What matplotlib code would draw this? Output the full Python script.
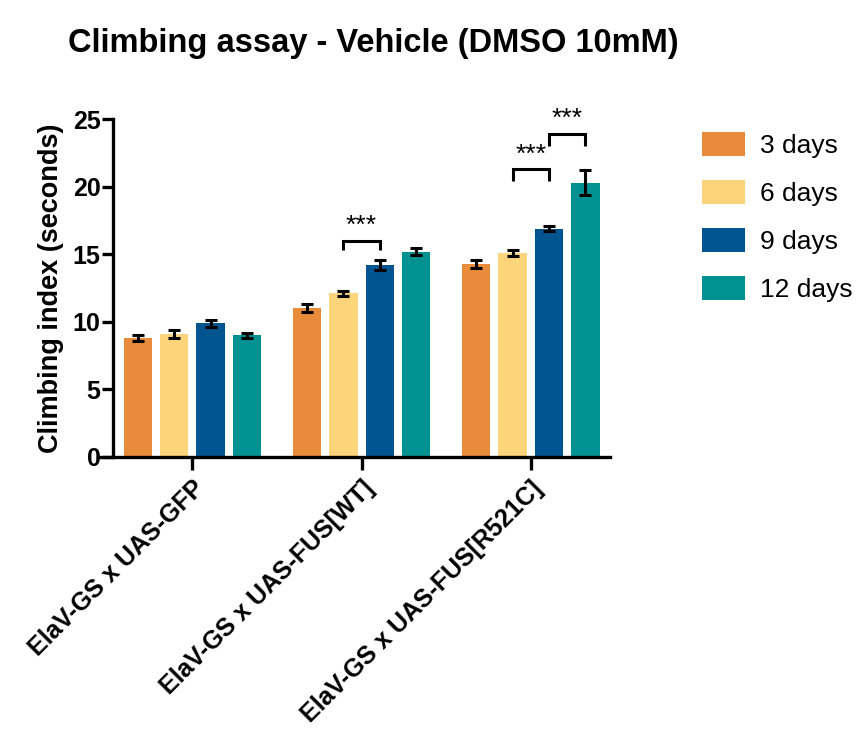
import matplotlib
matplotlib.use("Agg")
import matplotlib.pyplot as plt
import numpy as np
from matplotlib.patches import Patch

plt.rcParams['font.family'] = ['Liberation Sans', 'DejaVu Sans']

genotypes = ["ElaV-GS x UAS-GFP", "ElaV-GS x UAS-FUS[WT]", "ElaV-GS x UAS-FUS[R521C]"]
days = ["3 days", "6 days", "9 days", "12 days"]
colors = ["#E88B3A", "#FCD47A", "#00548F", "#009292"]

means = {
    "3 days":  [8.8, 11.0, 14.3],
    "6 days":  [9.1, 12.1, 15.1],
    "9 days":  [9.9, 14.2, 16.9],
    "12 days": [9.0, 15.2, 20.3],
}
errors = {
    "3 days":  [0.2, 0.3, 0.3],
    "6 days":  [0.3, 0.2, 0.25],
    "9 days":  [0.25, 0.35, 0.2],
    "12 days": [0.2, 0.25, 0.9],
}

# significance brackets: (genotype index, series a, series b, bracket top, leg bottom, label)
brackets = [
    (1, 1, 2, 16.0, 15.3, "***"),
    (2, 1, 2, 21.3, 20.4, "***"),
    (2, 2, 3, 23.9, 23.0, "***"),
]

fig = plt.figure(figsize=(8.62, 7.31), dpi=100)
ax = fig.add_axes([0.131, 0.375, 0.577, 0.462])

x = np.arange(len(genotypes))
pitch = 0.215
width = 0.168
offsets = (np.arange(len(days)) - 1.5) * pitch

for i, d in enumerate(days):
    ax.bar(x + offsets[i], means[d], width=width, color=colors[i],
           edgecolor="none", zorder=2)
    ax.errorbar(x + offsets[i], means[d], yerr=errors[d], fmt="none",
                ecolor="black", elinewidth=2.2, capsize=4.5, capthick=2.2, zorder=3)

for g, a, b, top, bottom, label in brackets:
    xa = x[g] + offsets[a]
    xb = x[g] + offsets[b]
    ax.plot([xa, xa, xb, xb], [bottom, top, top, bottom], color="black",
            lw=2.2, solid_capstyle="butt", solid_joinstyle="miter", clip_on=False, zorder=4)
    ax.text((xa + xb) / 2, top + 0.2, label, ha="center", va="bottom",
            fontsize=19, color="black")

ax.set_xlim(-0.47, 2.47)
ax.set_ylim(0, 25)
ax.set_yticks([0, 5, 10, 15, 20, 25])
ax.set_xticks(x)
ax.set_xticklabels(genotypes, rotation=45, ha="right", rotation_mode="anchor",
                   fontsize=18, fontweight="bold")
for lbl in ax.get_yticklabels():
    lbl.set_fontsize(18)
    lbl.set_fontweight("bold")

for s in ["top", "right"]:
    ax.spines[s].set_visible(False)
for s in ["left", "bottom"]:
    ax.spines[s].set_linewidth(2.4)
ax.spines["bottom"].set_bounds(-0.56, 2.47)
ax.tick_params(axis="both", width=2.4, length=8, direction="out", pad=1)
ax.tick_params(axis="x", length=9, pad=5)

ax.set_ylabel("Climbing index (seconds)", fontsize=19.5, fontweight="bold", labelpad=6)
fig.text(0.079, 0.94, "Climbing assay - Vehicle (DMSO 10mM)", fontsize=23.5,
         fontweight="bold", ha="left", va="center")

handles = [Patch(facecolor=c, edgecolor="none") for c in colors]
fig.legend(handles, days, loc="upper left", bbox_to_anchor=(0.8025, 0.834),
           frameon=False, fontsize=19, handlelength=1.6, handleheight=1.05,
           handletextpad=0.6, labelspacing=0.82, borderaxespad=0)

fig.savefig("out.png", dpi=100)
